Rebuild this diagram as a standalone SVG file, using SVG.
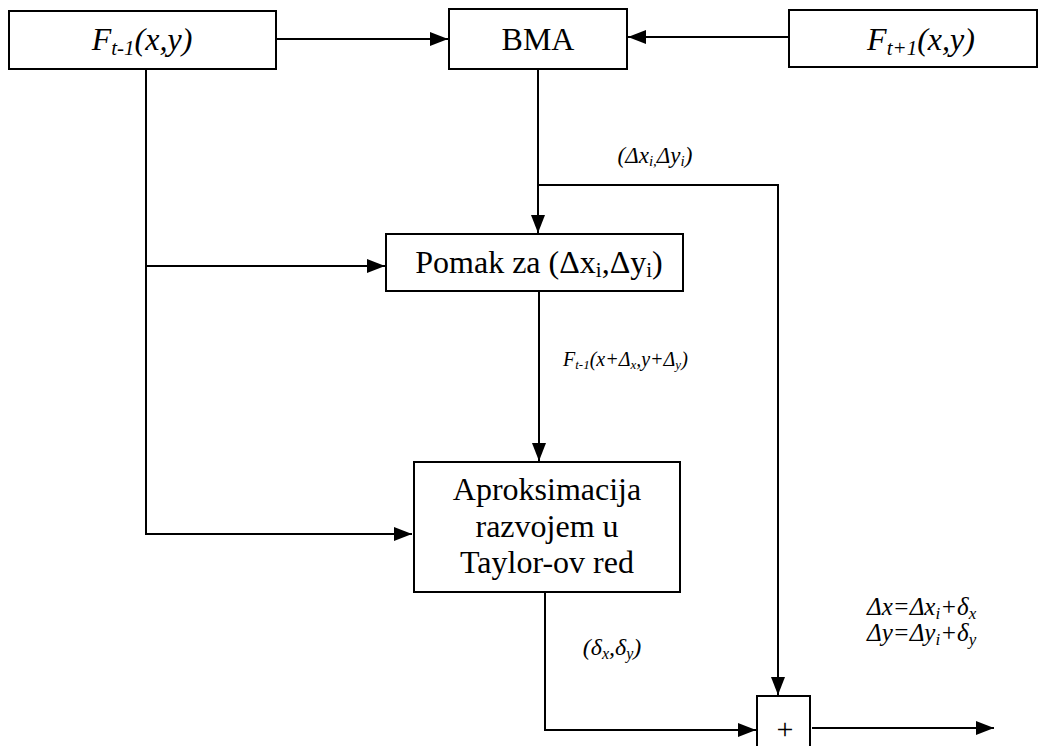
<svg xmlns="http://www.w3.org/2000/svg" width="1045" height="746" viewBox="0 0 1045 746">
<defs>
<marker id="ah" markerWidth="18" markerHeight="14" refX="18" refY="7" orient="auto" markerUnits="userSpaceOnUse">
<path d="M0,0 L18,7 L0,14 Z" fill="#000"/>
</marker>
<style>
.box{fill:#fff;stroke:#000;stroke-width:2}
.ln{fill:none;stroke:#000;stroke-width:2}
</style>
</defs>
<rect width="1045" height="746" fill="#fff"/>
<g id="connectors">
<line class="ln" x1="276" y1="39" x2="448" y2="39" marker-end="url(#ah)"/>
<line class="ln" x1="789" y1="37" x2="628" y2="37" marker-end="url(#ah)"/>
<path class="ln" d="M538,69 V233" marker-end="url(#ah)"/>
<path class="ln" d="M538,185 H778 V695" marker-end="url(#ah)"/>
<path class="ln" d="M146,69 V534 H412" marker-end="url(#ah)"/>
<line class="ln" x1="146" y1="266" x2="385" y2="266" marker-end="url(#ah)"/>
<path class="ln" d="M539,291 V461" marker-end="url(#ah)"/>
<path class="ln" d="M545,592 V730 H756" marker-end="url(#ah)"/>
<line class="ln" x1="812" y1="728" x2="994" y2="728" marker-end="url(#ah)"/>
</g>
<g font-family="Liberation Serif, Times New Roman, serif" fill="#000">
<g id="n_ft1">
<rect class="box" x="9" y="11" width="267" height="58"/>
<text x="142" y="50" font-size="32" font-style="italic" text-anchor="middle">F<tspan font-size="21" dy="5">t-1</tspan><tspan dy="-5">(x,y)</tspan></text>
</g>
<g id="n_bma">
<rect class="box" x="449" y="9" width="178" height="60"/>
<text x="538" y="50" font-size="32" text-anchor="middle">BMA</text>
</g>
<g id="n_ft2">
<rect class="box" x="789" y="10" width="248" height="57"/>
<text x="921" y="50" font-size="32" font-style="italic" text-anchor="middle">F<tspan font-size="21" dy="5">t+1</tspan><tspan dy="-5">(x,y)</tspan></text>
</g>
<g id="l_dxi">
<text x="655" y="163" font-size="23" font-style="italic" text-anchor="middle">(Δx<tspan font-size="15" dy="3">i,</tspan><tspan dy="-3">Δy</tspan><tspan font-size="15" dy="3">i</tspan><tspan dy="-3">)</tspan></text>
</g>
<g id="n_pomak">
<rect class="box" x="386" y="234" width="297" height="57"/>
<text x="539" y="273" font-size="32" text-anchor="middle">Pomak za (Δx<tspan font-size="21" dy="4">i</tspan><tspan dy="-4">,Δy</tspan><tspan font-size="21" dy="4">i</tspan><tspan dy="-4">)</tspan></text>
</g>
<g id="l_fshift">
<text x="563" y="366" font-size="20" font-style="italic">F<tspan font-size="13" dy="3">t-1</tspan><tspan dy="-3">(x+Δ</tspan><tspan font-size="13" dy="3">x</tspan><tspan dy="-3">,y+Δ</tspan><tspan font-size="13" dy="3">y</tspan><tspan dy="-3">)</tspan></text>
</g>
<g id="n_aprox">
<rect class="box" x="414" y="462" width="266" height="130"/>
<text x="547" y="500" font-size="32" text-anchor="middle">Aproksimacija</text>
<text x="547" y="537" font-size="32" text-anchor="middle">razvojem u</text>
<text x="547" y="573" font-size="32" text-anchor="middle">Taylor-ov red</text>
</g>
<g id="l_delta">
<text x="612" y="655" font-size="24" font-style="italic" text-anchor="middle">(δ<tspan font-size="16" dy="4">x</tspan><tspan dy="-4">,δ</tspan><tspan font-size="16" dy="4">y</tspan><tspan dy="-4">)</tspan></text>
</g>
<g id="l_eq">
<text x="867" y="615" font-size="25" font-style="italic">Δx=Δx<tspan font-size="17" dy="4">i</tspan><tspan dy="-4">+δ</tspan><tspan font-size="17" dy="4">x</tspan></text>
<text x="867" y="641" font-size="25" font-style="italic">Δy=Δy<tspan font-size="17" dy="4">i</tspan><tspan dy="-4">+δ</tspan><tspan font-size="17" dy="4">y</tspan></text>
</g>
<g id="n_plus">
<rect class="box" x="757" y="696" width="53" height="60"/>
<text x="785" y="739" font-size="30" text-anchor="middle">+</text>
</g>
</g>
</svg>
